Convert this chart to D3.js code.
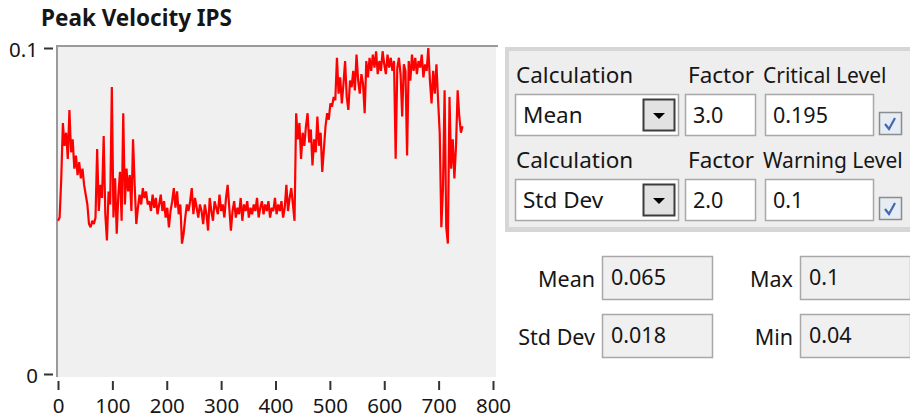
<!DOCTYPE html>
<html>
<head>
<meta charset="utf-8">
<script src="https://cdnjs.cloudflare.com/ajax/libs/d3/7.8.5/d3.min.js"></script>
<style>
  body { margin: 0; background: #fff; }
  svg { display: block; font-family: "Noto Sans", "Open Sans", sans-serif; }
</style>
</head>
<body>
<div id="chart"></div>
<script>
// peak velocity trace, one reading every 3 samples
var sampleStep = 3;
var velocity = [
  0.047, 0.048, 0.060, 0.077, 0.070, 0.074, 0.066, 0.081, 0.068, 0.072,
  0.063, 0.067, 0.061, 0.065, 0.060, 0.063, 0.058, 0.055, 0.052, 0.046,
  0.045, 0.047, 0.046, 0.048, 0.069, 0.050, 0.058, 0.054, 0.073, 0.049,
  0.041, 0.056, 0.052, 0.088, 0.048, 0.060, 0.043, 0.055, 0.062, 0.047,
  0.080, 0.052, 0.063, 0.056, 0.061, 0.050, 0.072, 0.058, 0.046, 0.051,
  0.055, 0.052, 0.057, 0.054, 0.056, 0.052, 0.053, 0.050, 0.055, 0.051,
  0.054, 0.049, 0.052, 0.055, 0.050, 0.053, 0.048, 0.051, 0.045, 0.050,
  0.053, 0.057, 0.051, 0.056, 0.049, 0.052, 0.040, 0.043, 0.048, 0.052,
  0.050, 0.053, 0.057, 0.049, 0.054, 0.051, 0.048, 0.052, 0.050, 0.046,
  0.052, 0.049, 0.044, 0.054, 0.050, 0.047, 0.053, 0.051, 0.049, 0.055,
  0.050, 0.052, 0.048, 0.054, 0.058, 0.051, 0.044, 0.050, 0.053, 0.048,
  0.051, 0.049, 0.054, 0.047, 0.052, 0.050, 0.053, 0.048, 0.051, 0.049,
  0.052, 0.050, 0.054, 0.048, 0.051, 0.053, 0.049, 0.052, 0.050, 0.053,
  0.048, 0.051, 0.050, 0.054, 0.049, 0.052, 0.050, 0.053, 0.048, 0.051,
  0.058, 0.050, 0.054, 0.057, 0.052, 0.047, 0.080, 0.072, 0.077, 0.066,
  0.074, 0.070, 0.076, 0.080, 0.071, 0.075, 0.064, 0.072, 0.068, 0.079,
  0.070, 0.074, 0.062, 0.069, 0.076, 0.080, 0.078, 0.083, 0.082, 0.085,
  0.084, 0.097, 0.086, 0.091, 0.083, 0.089, 0.096, 0.085, 0.081, 0.090,
  0.088, 0.093, 0.087, 0.098, 0.090, 0.086, 0.092, 0.089, 0.080, 0.096,
  0.091, 0.097, 0.093, 0.098, 0.094, 0.099, 0.092, 0.096, 0.093, 0.099,
  0.095, 0.092, 0.098, 0.094, 0.097, 0.093, 0.096, 0.066, 0.094, 0.097,
  0.092, 0.079, 0.095, 0.093, 0.067, 0.096, 0.090, 0.098, 0.093, 0.097,
  0.092, 0.096, 0.094, 0.098, 0.091, 0.095, 0.093, 0.100, 0.090, 0.083,
  0.093, 0.086, 0.095, 0.084, 0.074, 0.045, 0.057, 0.087, 0.045, 0.040,
  0.085, 0.063, 0.072, 0.060, 0.070, 0.087, 0.079, 0.074, 0.076
];

var xTicks = [0, 100, 200, 300, 400, 500, 600, 700, 800];
var yTicks = [0, 0.1];
var yTickLabels = ["0", "0.1"];

var calcChoices = ["Mean", "Std Dev"];
var factors = ["3.0", "2.0"];
var levelNames = ["Critical Level", "Warning Level"];
var levelValues = ["0.195", "0.1"];

var statNames = ["Mean", "Max", "Std Dev", "Min"];
var statValues = ["0.065", "0.1", "0.018", "0.04"];

var width = 910;
var height = 419;
var txt = "#161616";

var svg = d3.select("#chart").
append("svg").
attr("width", width).
attr("height", height);

// ---- graph ----
var x = d3.scaleLinear().domain([0, 800]).range([58, 493]);
var y = d3.scaleLinear().domain([0, 0.1]).range([374, 48]);

svg.append("text").
text("Peak Velocity IPS").
attr("x", 41).
attr("y", 26).
attr("font-size", 22.5).
attr("font-weight", "bold").
attr("fill", txt);

svg.append("rect").
attr("x", 57).
attr("y", 46).
attr("width", 439).
attr("height", 331).
attr("fill", "#f0f0f0");

svg.append("path").
attr("d", "M57,377V46H498").
attr("fill", "none").
attr("stroke", "#9a9a9a").
attr("stroke-width", 2);

var line = d3.line().
x(function (d, i) {return x(i * sampleStep);}).
y(function (d) {return y(d);});

svg.append("path").
datum(velocity).
attr("d", line).
attr("fill", "none").
attr("stroke", "#ff0000").
attr("stroke-width", 2.2).
attr("stroke-linejoin", "miter").
attr("stroke-miterlimit", 2);

var yAxis = d3.axisLeft(y).
tickValues(yTicks).
tickSize(9).
tickPadding(6).
tickFormat(function (d, i) {return yTickLabels[i];});

var gy = svg.append("g").
attr("transform", "translate(53,0)").
call(yAxis);
gy.select(".domain").remove();
gy.selectAll(".tick line").attr("stroke", "#333").attr("stroke-width", 2);
gy.selectAll(".tick text").
attr("font-size", 20.5).
attr("font-family", "\"Noto Sans\", sans-serif").
attr("fill", txt).
attr("dy", "0.4em");

var xAxis = d3.axisBottom(x).
tickValues(xTicks).
tickSize(9).
tickPadding(8).
tickFormat(d3.format("d"));

var gx = svg.append("g").
attr("transform", "translate(0,381)").
call(xAxis);
gx.select(".domain").remove();
gx.selectAll(".tick line").attr("stroke", "#333").attr("stroke-width", 2);
gx.selectAll(".tick text").
attr("font-size", 20.5).
attr("font-family", "\"Noto Sans\", sans-serif").
attr("fill", txt);

// ---- alarm settings cluster ----
svg.append("rect").
attr("x", 505).
attr("y", 47).
attr("width", 420).
attr("height", 185).
attr("fill", "#d6d6d6");

svg.append("rect").
attr("x", 509).
attr("y", 51).
attr("width", 420).
attr("height", 176).
attr("fill", "#eeeeee");

function box(bx, by, bw, bh, fill) {
  return svg.append("rect").
  attr("x", bx + 0.5).
  attr("y", by + 0.5).
  attr("width", bw).
  attr("height", bh).
  attr("fill", fill).
  attr("stroke", "#a8a8a8").
  attr("stroke-width", 1.5);
}

function label(s, lx, ly, anchor, size) {
  return svg.append("text").
  text(s).
  attr("x", lx).
  attr("y", ly).
  attr("font-size", size || 22.5).
  attr("text-anchor", anchor || "start").
  attr("fill", txt);
}

calcChoices.forEach(function (c, i) {
  var off = i * 85;
  label("Calculation", 516, 83 + off);
  label("Factor", 688, 83 + off);
  // level caption runs to the right edge, so a touch smaller to stay on the page
  label(levelNames[i], 763, 83 + off, "start", 21);

  box(515, 94 + off, 163, 41, "#fff");
  label(c, 523, 123 + off);

  svg.append("rect").
  attr("x", 643.5).
  attr("y", 99.5 + off).
  attr("width", 31).
  attr("height", 31).
  attr("fill", "#e2e2e2").
  attr("stroke", "#3c3c3c").
  attr("stroke-width", 2);
  svg.append("path").
  attr("d", "M653," + (113 + off) + "h12l-6,6z").
  attr("fill", "#000");

  box(685, 94 + off, 70, 41, "#fff");
  label(factors[i], 693, 123 + off, "start", 21.5);

  box(765, 94 + off, 108, 41, "#fff");
  label(levelValues[i], 773, 123 + off, "start", 21.5);

  svg.append("rect").
  attr("x", 879.5).
  attr("y", 112.5 + off).
  attr("width", 22).
  attr("height", 22).
  attr("fill", "#e6ecf3").
  attr("stroke", "#8c8c8c").
  attr("stroke-width", 1.5);
  svg.append("path").
  attr("d", "M885," + (124 + off) + "l4,5l6,-11").
  attr("fill", "none").
  attr("stroke", "#4468ad").
  attr("stroke-width", 2.2);
});

// ---- statistics indicators ----
var statX = [602, 800, 602, 800];
var statY = [256, 256, 314, 314];

statNames.forEach(function (n, i) {
  box(statX[i], statY[i], 110, 43, "#f0f0f0");
  label(n, statX[i] - 7, statY[i] + 31, "end", 21.5);
  label(statValues[i], statX[i] + 9, statY[i] + 29, "start", 21.5);
});
</script>
</body>
</html>
